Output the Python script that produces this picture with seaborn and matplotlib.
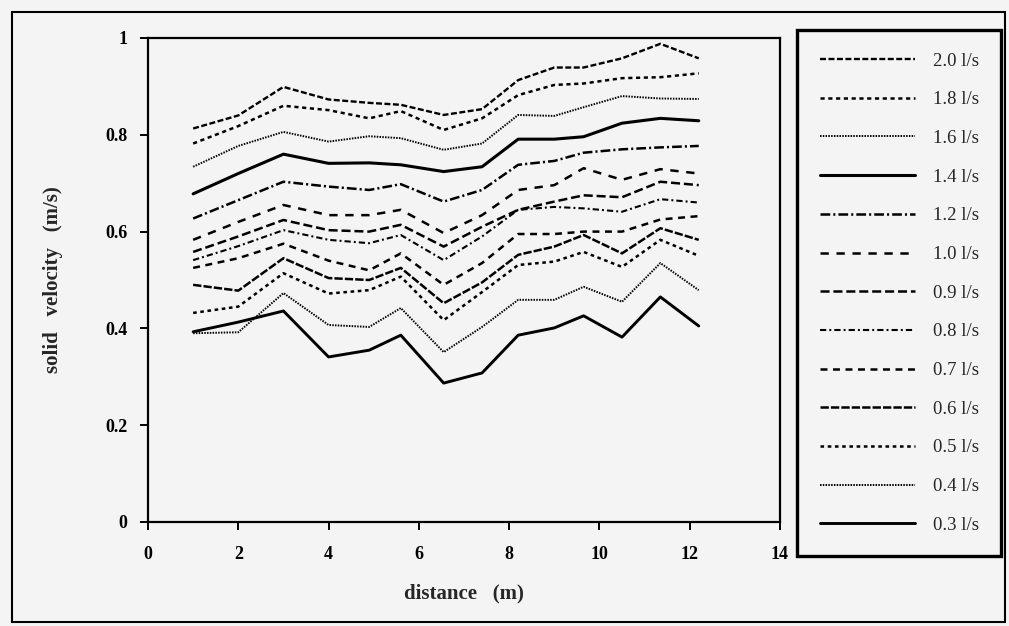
import numpy as np
import pandas as pd
import matplotlib
matplotlib.use("Agg")
import matplotlib.pyplot as plt
import seaborn as sns
from matplotlib.patches import Rectangle

# ---- data ----
distance = [1, 2, 3, 4, 4.9, 5.6, 6.55, 7.4, 8.2, 9.0, 9.65, 10.5, 11.35, 12.2]

v20 = [0.813, 0.84, 0.899, 0.873, 0.866, 0.862, 0.841, 0.853, 0.913, 0.939, 0.939, 0.958, 0.988, 0.958]
v18 = [0.782, 0.818, 0.86, 0.851, 0.834, 0.849, 0.81, 0.834, 0.882, 0.903, 0.906, 0.917, 0.919, 0.927]
v16 = [0.734, 0.777, 0.806, 0.786, 0.797, 0.793, 0.769, 0.782, 0.841, 0.839, 0.857, 0.88, 0.875, 0.874]
v14 = [0.678, 0.72, 0.76, 0.741, 0.742, 0.738, 0.724, 0.734, 0.791, 0.791, 0.796, 0.824, 0.834, 0.829]
v12 = [0.627, 0.665, 0.703, 0.693, 0.686, 0.698, 0.662, 0.686, 0.738, 0.746, 0.763, 0.77, 0.774, 0.777]
v10 = [0.583, 0.62, 0.655, 0.634, 0.634, 0.645, 0.597, 0.634, 0.686, 0.696, 0.731, 0.707, 0.729, 0.72]
v09 = [0.558, 0.59, 0.624, 0.603, 0.6, 0.614, 0.569, 0.61, 0.645, 0.662, 0.675, 0.671, 0.703, 0.696]
v08 = [0.541, 0.57, 0.603, 0.583, 0.576, 0.593, 0.541, 0.59, 0.645, 0.651, 0.648, 0.641, 0.667, 0.66]
v07 = [0.525, 0.545, 0.575, 0.54, 0.52, 0.555, 0.49, 0.535, 0.595, 0.595, 0.6, 0.6, 0.625, 0.632]
v06 = [0.49, 0.478, 0.545, 0.504, 0.5, 0.525, 0.452, 0.495, 0.552, 0.569, 0.593, 0.555, 0.607, 0.583]
v05 = [0.432, 0.445, 0.514, 0.472, 0.479, 0.507, 0.417, 0.475, 0.531, 0.538, 0.558, 0.527, 0.583, 0.55]
v04 = [0.39, 0.392, 0.473, 0.407, 0.403, 0.442, 0.351, 0.403, 0.459, 0.459, 0.486, 0.455, 0.535, 0.479]
v03 = [0.393, 0.413, 0.436, 0.341, 0.355, 0.386, 0.287, 0.308, 0.386, 0.401, 0.426, 0.382, 0.465, 0.405]

flow_labels = ["2.0 l/s", "1.8 l/s", "1.6 l/s", "1.4 l/s", "1.2 l/s", "1.0 l/s", "0.9 l/s",
               "0.8 l/s", "0.7 l/s", "0.6 l/s", "0.5 l/s", "0.4 l/s", "0.3 l/s"]
series = [v20, v18, v16, v14, v12, v10, v09, v08, v07, v06, v05, v04, v03]

xticks = [0, 2, 4, 6, 8, 10, 12, 14]
yticks = [0, 0.2, 0.4, 0.6, 0.8, 1.0]
ytick_labels = ["0", "0.2", "0.4", "0.6", "0.8", "1"]

# ---- styles ----
styles = [
    ((0, (4.3, 1.8)), 1.7),
    ((0, (3.0, 2.6)), 1.8),
    ((0, (1.1, 0.9)), 1.4),
    ("-", 2.2),
    ((0, (7, 2.2, 1.5, 2.2)), 1.8),
    ((0, (6, 5.5)), 1.8),
    ((0, (6.5, 2.8)), 1.8),
    ((0, (4.5, 2.2, 1.4, 2.2)), 1.5),
    ((0, (5, 4)), 1.8),
    ((0, (6, 1.5)), 1.8),
    ((0, (2.6, 2.6)), 1.8),
    ((0, (1.1, 0.9)), 1.4),
    ("-", 2.1),
]

bg = "#f4f4f4"
sns.set_theme(style="ticks")
plt.rcParams["font.family"] = ["Liberation Serif", "DejaVu Serif"]
plt.rcParams["lines.scale_dashes"] = False

fig = plt.figure(figsize=(10.09, 6.26), dpi=100, facecolor=bg)
ax = fig.add_axes([148 / 1009, 1 - 522 / 626, (780 - 148) / 1009, (522 - 38) / 626])
ax.set_facecolor(bg)

df = pd.DataFrame({"distance": np.tile(distance, len(series)),
                   "velocity": np.concatenate(series),
                   "flow": np.repeat(flow_labels, len(distance))})

for lab, (ls, lw) in zip(flow_labels, styles):
    sub = df[df["flow"] == lab]
    sns.lineplot(data=sub, x="distance", y="velocity", ax=ax, color="black",
                 linestyle=ls, linewidth=lw, label=lab, sort=False)

ax.set_xlim(0, 14)
ax.set_ylim(0, 1)
ax.set_xticks(xticks)
ax.set_xticklabels([str(t) for t in xticks])
ax.set_yticks(yticks)
ax.set_yticklabels(ytick_labels)
ax.tick_params(axis="both", direction="out", length=6, width=1.4, colors="black",
               labelsize=13)
ax.tick_params(axis="x", pad=11)
ax.tick_params(axis="y", pad=9)
for t in ax.get_xticklabels() + ax.get_yticklabels():
    t.set_fontweight("bold")
for s in ax.spines.values():
    s.set_color("black")
    s.set_linewidth(1.6)

ax.set_xlabel("distance   (m)", fontsize=15, fontweight="bold", labelpad=15)
ax.set_ylabel("solid   velocity   (m/s)", fontsize=15, fontweight="bold", labelpad=30)

handles, labels = ax.get_legend_handles_labels()
ax.get_legend().remove()
leg = fig.legend(handles, labels, loc="upper left",
                 bbox_to_anchor=(797 / 1009, 1 - 30 / 626),
                 bbox_transform=fig.transFigure, frameon=True, fancybox=False,
                 framealpha=1.0,
                 prop={"size": 13.5}, handlelength=5.1, handletextpad=0.95,
                 labelspacing=1.15, borderpad=1.2, borderaxespad=0)
leg.get_frame().set_edgecolor("black")
leg.get_frame().set_linewidth(2.4)
leg.get_frame().set_facecolor(bg)

# outer frame
fig.patches.append(Rectangle((12 / 1009, 4 / 626), 993 / 1009, 610 / 626,
                             transform=fig.transFigure, fill=False,
                             edgecolor="black", linewidth=1.5))

fig.savefig("out.png", dpi=100, facecolor=bg)
